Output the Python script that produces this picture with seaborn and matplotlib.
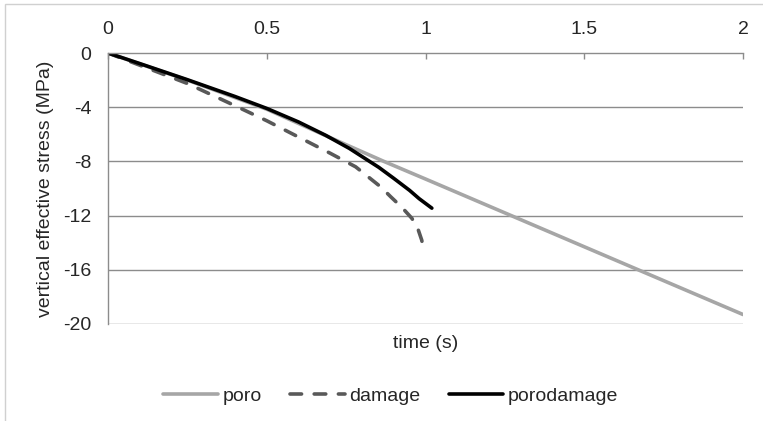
import matplotlib
matplotlib.use("Agg")
import matplotlib.pyplot as plt
import seaborn as sns
from matplotlib.patches import Rectangle

poro_t = [0.0, 0.25, 0.5, 0.7, 0.869, 1.0, 1.25, 1.5, 1.75, 2.0]
poro_s = [0.0, -2.0, -4.15, -6.25, -8.0, -9.3, -11.8, -14.3, -16.8, -19.3]

damage_t = [0.0, 0.1, 0.25, 0.41, 0.5, 0.6, 0.7, 0.78, 0.86, 0.89, 0.926, 0.957, 0.975, 0.988, 0.995]
damage_s = [0.0, -0.9, -2.25, -4.0, -5.0, -6.2, -7.4, -8.4, -9.9, -10.6, -11.4, -12.2, -12.9, -13.8, -14.6]

porod_t = [0.0, 0.1, 0.25, 0.4, 0.5, 0.6, 0.686, 0.76, 0.853, 0.9, 0.95, 0.98, 1.02]
porod_s = [0.0, -0.78, -1.97, -3.21, -4.09, -5.09, -6.08, -7.04, -8.44, -9.25, -10.14, -10.75, -11.45]

sns.set_style("white")
plt.rcParams['font.family'] = ['Liberation Sans', 'DejaVu Sans']
FS = 14

fig = plt.figure(figsize=(7.63, 4.21), dpi=100)
x0, x1, ytop, ybot = 108, 743, 53, 324
ax = fig.add_axes([x0/763, 1-ybot/421, (x1-x0)/763, (ybot-ytop)/421])

grid_c = "#8c8c8c"
for yv in [-4, -8, -12, -16, -20]:
    ax.axhline(yv, color=grid_c, lw=1.0, zorder=0)

LW = 2.6
sns.lineplot(x=poro_t, y=poro_s, ax=ax, color="#a6a6a6", lw=LW, label="poro",
             solid_capstyle="round", solid_joinstyle="round")
sns.lineplot(x=damage_t, y=damage_s, ax=ax, color="#595959", lw=LW, label="damage",
             linestyle=(0, (3.2, 3.5)), dash_capstyle="round", sort=False)
sns.lineplot(x=porod_t, y=porod_s, ax=ax, color="black", lw=LW, label="porodamage",
             solid_capstyle="round", solid_joinstyle="round")

ax.set_xlim(0, 2)
ax.set_ylim(-20, 0)
ax.xaxis.tick_top()
ax.set_xticks([0, 0.5, 1, 1.5, 2])
ax.set_xticklabels(["0", "0.5", "1", "1.5", "2"])
ax.set_yticks([0, -4, -8, -12, -16, -20])
ax.set_yticklabels(["0", "-4", "-8", "-12", "-16", "-20"])
ax.tick_params(axis='x', direction='in', length=4, width=1, color=grid_c, labelsize=FS, pad=11)
ax.tick_params(axis='y', direction='out', length=4, width=1, color=grid_c, labelsize=FS, pad=8)

for side in ["right", "bottom"]:
    ax.spines[side].set_visible(False)
for side in ["top", "left"]:
    ax.spines[side].set_color(grid_c)
    ax.spines[side].set_linewidth(1.0)

ax.set_xlabel("time (s)", fontsize=FS)
ax.xaxis.set_label_position("bottom")
ax.xaxis.set_label_coords(0.5, -(344 - ybot) / (ybot - ytop))
ax.xaxis.label.set_va("center")
ax.set_ylabel("vertical effective stress (MPa)", fontsize=FS)
ax.yaxis.set_label_coords((46 - x0) / (x1 - x0), 0.5)
ax.yaxis.label.set_ha("center")
ax.yaxis.label.set_va("center")

leg = ax.legend(loc="center", bbox_to_anchor=(391/763, 1-396/421),
                bbox_transform=fig.transFigure, ncol=3, frameon=False,
                fontsize=FS, handlelength=2.8, handletextpad=0.25, columnspacing=1.45,
                borderpad=0, borderaxespad=0)

fig.patches.append(Rectangle((5/763, -0.1), 1.2, 1 - 4/421 + 0.1, transform=fig.transFigure,
                             fill=False, edgecolor="#d0d0d0", lw=1.0))

fig.savefig("out.png", dpi=100)
